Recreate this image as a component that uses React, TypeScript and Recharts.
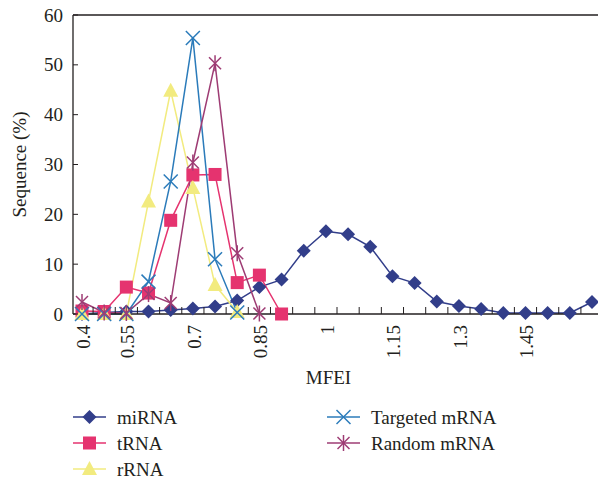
import React from 'react';
import { LineChart, Line, XAxis, YAxis, ReferenceLine, Legend } from 'recharts';

const categories = [
  '0.4', '0.5', '0.55', '0.6', '0.65', '0.7', '0.75', '0.8', '0.85', '0.9', '0.95', '1',
  '1.05', '1.1', '1.15', '1.2', '1.25', '1.3', '1.35', '1.4', '1.45', '1.5', '1.55', '1.6',
];
const shownLabels = ['0.4', '0.55', '0.7', '0.85', '1', '1.15', '1.3', '1.45'];
const yTicks = [0, 10, 20, 30, 40, 50, 60];

const miRNA = [0, 0.3, 0.5, 0.5, 0.8, 1.1, 1.5, 2.7, 5.4, 6.9, 12.7, 16.6, 16.0, 13.5, 7.6, 6.2, 2.5, 1.6, 1.0, 0.2, 0.2, 0.2, 0.2, 2.4];
const tRNA = [0.6, 0.5, 5.4, 4.2, 18.8, 27.9, 28.0, 6.3, 7.8, 0];
const rRNA = [0, 0, 0, 22.6, 44.8, 25.3, 5.8, 0.4];
const targetedMRNA = [0, 0, 0, 6.5, 26.6, 55.4, 11.0, 0.3];
const randomMRNA = [2.4, 0.3, 0.2, 4.0, 2.2, 30.4, 50.3, 12.2, 0.1];

const FONT = '"Liberation Serif", "Times New Roman", serif';
const AXIS = '#231F20';
const STEP = (598 - 73 - 9 - 6) / 23;

const series = [
  { key: 'miRNA', name: 'miRNA', color: '#323E8A', shape: 'diamond' },
  { key: 'tRNA', name: 'tRNA', color: '#E5336F', shape: 'square' },
  { key: 'rRNA', name: 'rRNA', color: '#F2EB7F', shape: 'triangle' },
  { key: 'targeted', name: 'Targeted mRNA', color: '#2B7BBA', shape: 'cross' },
  { key: 'random', name: 'Random mRNA', color: '#9E3C74', shape: 'star' },
];

const data = categories.map((c, i) => ({
  mfei: c,
  miRNA: miRNA[i] ?? null,
  tRNA: tRNA[i] ?? null,
  rRNA: rRNA[i] ?? null,
  targeted: targetedMRNA[i] ?? null,
  random: randomMRNA[i] ?? null,
}));

function marker(shape: string, cx: number, cy: number, color: string) {
  switch (shape) {
    case 'diamond':
      return <polygon points={`${cx},${cy - 7} ${cx + 7},${cy} ${cx},${cy + 7} ${cx - 7},${cy}`} fill={color} />;
    case 'square':
      return <rect x={cx - 6.5} y={cy - 6.5} width={13} height={13} fill={color} />;
    case 'triangle':
      return <polygon points={`${cx},${cy - 8} ${cx + 7.5},${cy + 6} ${cx - 7.5},${cy + 6}`} fill={color} />;
    case 'cross':
      return (
        <g stroke={color} strokeWidth={1.5}>
          <line x1={cx - 7} y1={cy - 7} x2={cx + 7} y2={cy + 7} />
          <line x1={cx - 7} y1={cy + 7} x2={cx + 7} y2={cy - 7} />
        </g>
      );
    default:
      return (
        <g stroke={color} strokeWidth={1.5}>
          <line x1={cx - 6} y1={cy - 6} x2={cx + 6} y2={cy + 6} />
          <line x1={cx - 6} y1={cy + 6} x2={cx + 6} y2={cy - 6} />
          <line x1={cx} y1={cy - 8} x2={cx} y2={cy + 8} />
        </g>
      );
  }
}

const makeDot = (shape: string, color: string) => (props: any) => {
  const { cx, cy, value, index } = props;
  if (value == null || cx == null || cy == null) return <g key={`e-${index}`} />;
  return <g key={`d-${index}`}>{marker(shape, cx, cy, color)}</g>;
};

const XTick = (props: any) => {
  const { x, y, payload } = props;
  const axisY = y - 11;
  return (
    <g>
      <line x1={x + STEP / 2} x2={x + STEP / 2} y1={axisY} y2={axisY - 7} stroke={AXIS} />
      {shownLabels.includes(payload.value) && (
        <text x={x} y={y} dy={8} textAnchor="end" transform={`rotate(-90, ${x}, ${y})`}
          fontFamily={FONT} fontSize={19} fill={AXIS}>
          {payload.value}
        </text>
      )}
    </g>
  );
};

const YTick = (props: any) => {
  const { x, y, payload } = props;
  return (
    <g>
      <line x1={x + 10} x2={x + 15} y1={y} y2={y} stroke={AXIS} />
      <text x={x} y={y} dy={6.5} textAnchor="end" fontFamily={FONT} fontSize={19} fill={AXIS}>
        {payload.value}
      </text>
    </g>
  );
};

const LegendBox = () => {
  const rowY = [17, 43, 69];
  const cols = [73, 327];
  return (
    <svg width={598} height={81}>
      {series.map((s, i) => {
        const col = i < 3 ? 0 : 1;
        const row = i < 3 ? i : i - 3;
        const x0 = cols[col];
        const y = rowY[row];
        return (
          <g key={s.key}>
            <line x1={x0} x2={x0 + 33} y1={y} y2={y} stroke={s.color} strokeWidth={1.5} />
            {marker(s.shape, x0 + 16.5, y, s.color)}
            <text x={x0 + 44} y={y} dy={6.5} fontFamily={FONT} fontSize={19} fill={AXIS}>
              {s.name}
            </text>
          </g>
        );
      })}
    </svg>
  );
};

export default function App() {
  return (
    <div style={{ position: 'absolute', left: 0, top: 0, width: 598, height: 481, background: '#fff' }}>
      <LineChart width={598} height={481} data={data} margin={{ top: 15, right: 0, left: 0, bottom: 0 }}>
        <XAxis
          dataKey="mfei"
          type="category"
          interval={0}
          height={167}
          padding={{ left: 9, right: 6 }}
          tickSize={0}
          tickMargin={11}
          tickLine={false}
          tick={<XTick />}
          axisLine={{ stroke: AXIS, strokeWidth: 1.3 }}
          label={{ value: 'MFEI', position: 'insideTop', offset: 57, dx: -7, style: { fontFamily: FONT, fontSize: 19, fill: AXIS } }}
        />
        <YAxis
          type="number"
          domain={[0, 60]}
          ticks={yTicks}
          width={73}
          tickSize={0}
          tickMargin={10}
          tickLine={false}
          tick={<YTick />}
          axisLine={{ stroke: AXIS, strokeWidth: 1.3 }}
          label={{ value: 'Sequence (%)', angle: -90, position: 'insideLeft', offset: 19, style: { textAnchor: 'middle', fontFamily: FONT, fontSize: 19, fill: AXIS } }}
        />
        <ReferenceLine y={60} stroke={AXIS} strokeWidth={1.3} />
        {series.map(s => (
          <Line
            key={s.key}
            dataKey={s.key}
            name={s.name}
            type="linear"
            stroke={s.color}
            strokeWidth={1.5}
            dot={makeDot(s.shape, s.color)}
            activeDot={false}
            isAnimationActive={false}
          />
        ))}
        <Legend
          layout="horizontal"
          verticalAlign="middle"
          align="center"
          wrapperStyle={{ top: 400, left: 0, width: 598, height: 81 }}
          content={() => <LegendBox />}
        />
      </LineChart>
    </div>
  );
}
